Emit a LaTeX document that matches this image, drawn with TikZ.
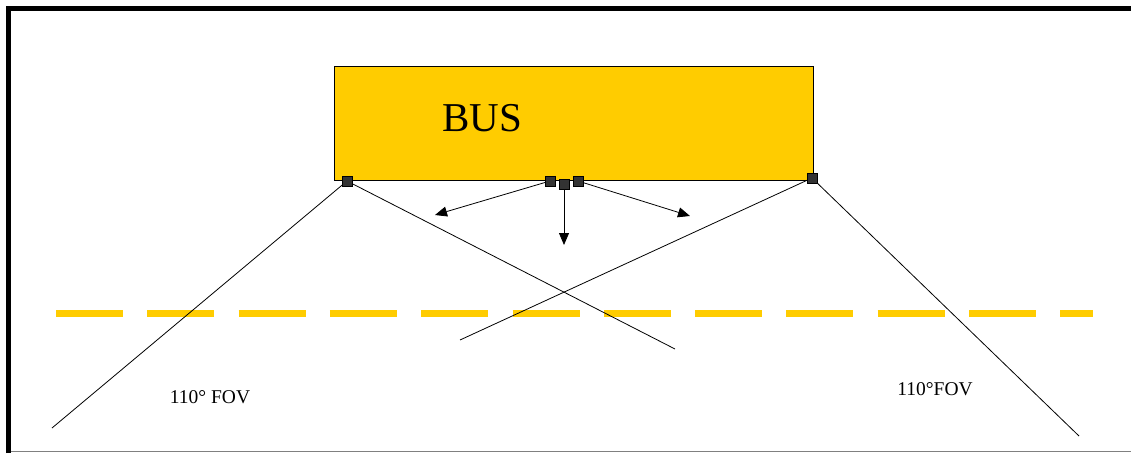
\documentclass[tikz,border=0pt]{standalone}
\usepackage{fontspec}
\setmainfont{Liberation Serif}
\usetikzlibrary{arrows.meta}
\definecolor{busyellow}{HTML}{FFCC00}
\definecolor{camgray}{HTML}{333333}
\begin{document}
\begin{tikzpicture}[x=1pt,y=-1pt,
  cam/.style={draw=black,fill=camgray,minimum size=10pt,inner sep=0pt,line width=0.5pt},
  fov/.style={line width=0.8pt},
  dirarrow/.style={line width=0.8pt,-{Triangle[length=12pt,width=10pt]}},
  lbl/.style={font=\fontsize{19.5}{22}\selectfont,inner sep=0pt}]
\useasboundingbox (0,0) rectangle (1131,453);
% frame
\draw[line width=5.5pt] (8.5,453) -- (8.5,8.5) -- (1131,8.5);
\draw[gray,line width=1.5pt] (11,451.5) -- (1131,451.5);
% bus
\node[draw=black,fill=busyellow,line width=0.8pt,minimum width=479pt,minimum height=114pt,inner sep=0pt,anchor=north west] (bus) at (334,66) {};
\node[font=\fontsize{41}{44}\selectfont,inner sep=0pt] (bustext) at (482,118) {BUS};
% road line
\draw[busyellow,line width=7pt,dash pattern=on 67pt off 24.3pt] (56,313) -- (1093,313);
% camera free ends
\coordinate (l1) at (52,428);
\coordinate (l2) at (675,349);
\coordinate (r1) at (1079,436);
\coordinate (r2) at (460,340);
\coordinate (a1) at (435,215);
\coordinate (a2) at (690,216);
\coordinate (a3) at (564,245);
% FOV lines
\draw[fov] (347,181) -- (l1);
\draw[fov] (347,181) -- (l2);
\draw[fov] (812,178) -- (r1);
\draw[fov] (812,178) -- (r2);
% arrows
\draw[dirarrow] (550,181) -- (a1);
\draw[dirarrow] (578,181) -- (a2);
\draw[dirarrow] (564,184) -- (a3);
% cameras
\node[cam] (cl) at (347,181) {};
\node[cam] (cr) at (812,178) {};
\node[cam] (c1) at (550,181) {};
\node[cam] (c3) at (578,181) {};
\node[cam] (c2) at (564,184) {};
% labels
\node[lbl] (fovl) at (210,397) {110° FOV};
\node[lbl] (fovr) at (935,389) {110°FOV};
\end{tikzpicture}
\end{document}
